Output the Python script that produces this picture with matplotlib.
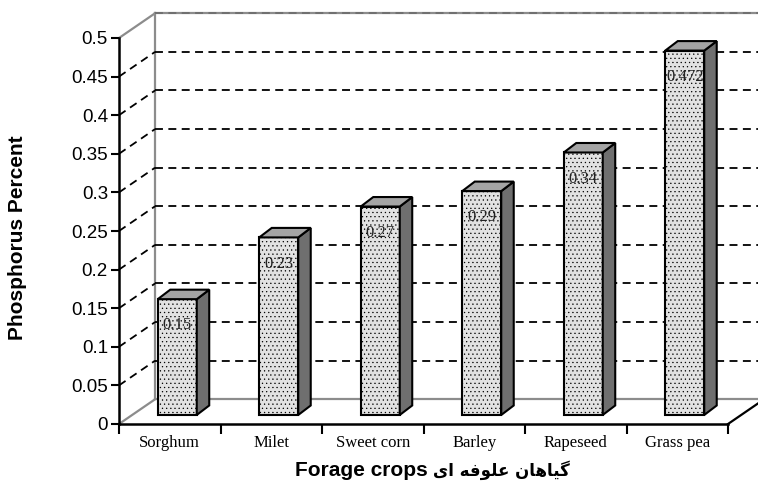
import matplotlib
matplotlib.use('Agg')
import matplotlib.pyplot as plt
from matplotlib.patches import Polygon

# data
crops = ['Sorghum', 'Milet', 'Sweet corn', 'Barley', 'Rapeseed', 'Grass pea']
phosphorus = [0.15, 0.23, 0.27, 0.29, 0.34, 0.472]
value_labels = ['0.15', '0.23', '0.27', '0.29', '0.34', '0.472']
y_ticks = [0, 0.05, 0.1, 0.15, 0.2, 0.25, 0.3, 0.35, 0.4, 0.45, 0.5]
y_tick_labels = ['0', '0.05', '0.1', '0.15', '0.2', '0.25', '0.3', '0.35', '0.4', '0.45', '0.5']

# Persian part of the x label (گیاهان علوفه ای) in shaped forms, reversed to visual order
persian_label = '\uFB94\uFBFF\uFE8E\uFEEB\uFE8E\uFEE5 \uFECB\uFEE0\uFEEE\uFED3\uFEEA \uFE8D\uFBFC'[::-1]

# 3d look: wall offset and bar placement, in data units
WALL_DX, WALL_DY = 0.355, 0.032
BAR_SHIFT, BAR_W, BAR_BASE = -0.118, 0.384, 0.0117
TOP_DX, TOP_DY = 0.123, 0.0123

plt.rcParams['hatch.color'] = '#cfcfcf'
plt.rcParams['hatch.linewidth'] = 0.4

fig = plt.figure(figsize=(7.58, 4.88), dpi=100)
ax = fig.add_axes([119 / 758, 64 / 488, 609 / 758, 386 / 488])
n = len(crops)
x0, x1 = -0.5, n - 0.5
ax.set_xlim(x0, x1)
ax.set_ylim(0, 0.5)

wall_gray = '#8c8c8c'

# back wall edges
ax.plot([x0 + WALL_DX, x0 + WALL_DX], [WALL_DY, 0.5 + WALL_DY], color=wall_gray, lw=1.6, clip_on=False, zorder=1)
ax.plot([x0 + WALL_DX, x1 + WALL_DX + 1], [WALL_DY, WALL_DY], color=wall_gray, lw=1.6, clip_on=False, zorder=1)
ax.plot([x0 + WALL_DX, x1 + WALL_DX + 1], [0.5 + WALL_DY, 0.5 + WALL_DY], color=wall_gray, lw=1.6, clip_on=False, zorder=1)
ax.plot([x0, x0 + WALL_DX], [0, WALL_DY], color=wall_gray, lw=1.6, clip_on=False, zorder=1)
ax.plot([x0, x0 + WALL_DX], [0.5, 0.5 + WALL_DY], color=wall_gray, lw=1.6, clip_on=False, zorder=1)
ax.plot([x1, x1 + WALL_DX], [0, WALL_DY], color='black', lw=1.6, clip_on=False, zorder=1)

# gridlines on the wall plus the diagonal ones on the side
for v in y_ticks[1:]:
    c = '#6e6e6e' if v == 0.5 else 'black'
    ax.plot([x0 + WALL_DX, x1 + WALL_DX + 1], [v + WALL_DY, v + WALL_DY], color=c,
            lw=1.3, ls=(0, (4.4, 3)), clip_on=False, zorder=2)
    if v < 0.5:
        ax.plot([x0, x0 + WALL_DX], [v, v + WALL_DY], color='black',
                lw=1.3, ls=(0, (4.4, 3)), clip_on=False, zorder=2)

# bars
for i, (val, lab) in enumerate(zip(phosphorus, value_labels)):
    left = i + BAR_SHIFT
    right = left + BAR_W
    bot = BAR_BASE
    top = BAR_BASE + val
    front = Polygon([(left, bot), (right, bot), (right, top), (left, top)], closed=True,
                    facecolor='#e2e2e2', edgecolor='black', lw=1.5, hatch='....', zorder=5)
    ax.add_patch(front)
    side = Polygon([(right, bot), (right + TOP_DX, bot + TOP_DY), (right + TOP_DX, top + TOP_DY), (right, top)],
                   closed=True, facecolor='#6f6f6f', edgecolor='black', lw=1.5, zorder=5)
    ax.add_patch(side)
    lid = Polygon([(left, top), (right, top), (right + TOP_DX, top + TOP_DY), (left + TOP_DX, top + TOP_DY)],
                  closed=True, facecolor='#a4a4a4', edgecolor='black', lw=1.5, zorder=5)
    ax.add_patch(lid)
    ax.text((left + right) / 2, top - 0.034, lab, ha='center', va='center',
            fontsize=12, family='Liberation Serif', color='#222222', zorder=6)

# axes lines and ticks
for s in ['top', 'right']:
    ax.spines[s].set_visible(False)
ax.spines['left'].set_linewidth(1.8)
ax.spines['bottom'].set_linewidth(1.8)
ax.set_yticks(y_ticks)
ax.set_yticklabels(y_tick_labels, fontsize=13.5, family='Liberation Sans')
ax.tick_params(axis='y', length=6, width=1.5, pad=2)
ax.set_xticks([x0 + k for k in range(n + 1)])
ax.set_xticklabels([])
ax.tick_params(axis='x', which='major', length=7, width=1.5)
ax.set_xticks(range(n), minor=True)
ax.set_xticklabels(crops, minor=True, fontsize=12, family='Liberation Serif')
ax.tick_params(axis='x', which='minor', length=0, pad=8)

fig.text(18 / 758, 1 - 238 / 488, 'Phosphorus Percent', rotation=90, ha='center', va='center',
         fontsize=15, fontweight='bold', family='Liberation Sans')
fig.text(428 / 758, 1 - 471 / 488, 'Forage crops', ha='right', va='center',
         fontsize=15, fontweight='bold', family='Liberation Sans')
fig.text(433 / 758, 1 - 470 / 488, persian_label, ha='left', va='center',
         fontsize=12, fontweight='bold', family='DejaVu Sans')

fig.savefig('out.png', dpi=100)
